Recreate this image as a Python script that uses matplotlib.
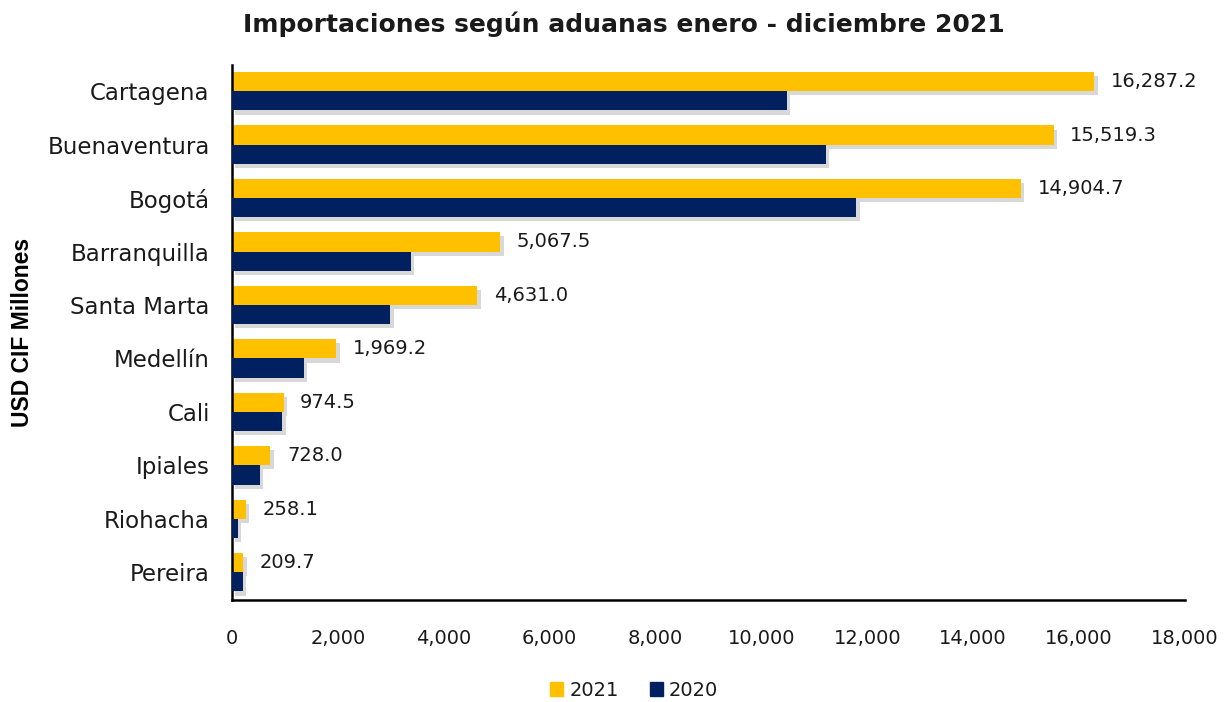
import numpy as np
import matplotlib
matplotlib.use('Agg')
import matplotlib.pyplot as plt
import matplotlib.patheffects as pe
from matplotlib.patches import Patch

aduanas = ['Cartagena', 'Buenaventura', 'Bogotá', 'Barranquilla', 'Santa Marta',
           'Medellín', 'Cali', 'Ipiales', 'Riohacha', 'Pereira']
valores_2021 = [16287.2, 15519.3, 14904.7, 5067.5, 4631.0, 1969.2, 974.5, 728.0, 258.1, 209.7]
valores_2020 = [10480, 11220, 11790, 3380, 2990, 1360, 950, 530, 110, 200]
xticks = [0, 2000, 4000, 6000, 8000, 10000, 12000, 14000, 16000, 18000]

amarillo = '#FFC000'
azul = '#002060'

plt.rcParams['font.family'] = ['DejaVu Sans']
plt.rcParams['text.color'] = '#1a1a1a'

fig = plt.figure(figsize=(12.24, 7.02), dpi=100)
ax = fig.add_axes([0.1895, 0.1453, 0.7785, 0.7621])

y = np.arange(len(aduanas))
h = 0.36
sombra = [pe.SimplePatchShadow(offset=(2.5, -3), shadow_rgbFace='#7f7f7f', alpha=0.3), pe.Normal()]

# la barra 2020 va encima para tapar la sombra de la 2021
ax.barh(y - h / 2, valores_2021, height=h, color=amarillo, path_effects=sombra, zorder=2)
ax.barh(y + h / 2, valores_2020, height=h, color=azul, path_effects=sombra, zorder=3)

for yi, v in zip(y, valores_2021):
    ax.annotate(f'{v:,.1f}', xy=(v, yi - h / 2), xytext=(12, 0), textcoords='offset points',
                ha='left', va='center', fontsize=14, color='#1a1a1a')

ax.set_xlim(0, 18000)
ax.set_ylim(len(aduanas) - 0.48, -0.49)
ax.set_xticks(xticks)
ax.set_xticklabels([f'{t:,}' for t in xticks], fontsize=14, color='#1a1a1a')
ax.set_yticks(y)
ax.set_yticklabels(aduanas, fontsize=16.5, color='#1a1a1a')
ax.tick_params(axis='x', length=0, pad=21)
ax.tick_params(axis='y', length=0, pad=16)
for s in ['top', 'right']:
    ax.spines[s].set_visible(False)
ax.spines['left'].set_linewidth(1.8)
ax.spines['bottom'].set_linewidth(1.8)

ax.set_ylabel('USD CIF Millones', fontsize=16.5, fontweight='bold',
              family=['Liberation Sans', 'DejaVu Sans'])
ax.yaxis.set_label_coords(-0.208, 0.5)

fig.text(0.51, 0.965, 'Importaciones según aduanas enero - diciembre 2021', ha='center', va='center',
         fontsize=18, fontweight='bold')

handles = [Patch(color=amarillo), Patch(color=azul)]
fig.legend(handles=handles, labels=['2021', '2020'], loc='center', bbox_to_anchor=(0.518, 0.017),
           ncol=2, frameon=False, fontsize=14, handlelength=0.7, handleheight=0.7,
           handletextpad=0.3, columnspacing=1.6)

fig.savefig('out.png', dpi=100)
